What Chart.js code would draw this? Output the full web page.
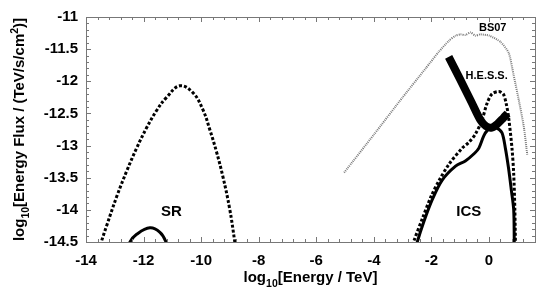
<!DOCTYPE html>
<html>
<head>
<meta charset="utf-8">
<script src="https://cdn.jsdelivr.net/npm/chart.js@4/dist/chart.umd.min.js"></script>
<style>
html, body { margin: 0; padding: 0; background: #fff; }
</style>
</head>
<body>
<canvas id="sedChart" width="538" height="291"></canvas>
<script>
// values: log10(E/TeV) vs log10(flux)
const srDotX = [-13.6, -13.47, -13.27, -12.93, -12.58, -12.24, -11.89, -11.54, -11.2, -10.74, -10.28, -9.93, -9.7, -9.47, -9.24, -9.01, -8.83, -8.77];
const srDotY = [-14.7, -14.5, -14.23, -13.79, -13.39, -13.04, -12.72, -12.45, -12.25, -12.07, -12.18, -12.45, -12.75, -13.09, -13.49, -13.98, -14.5, -14.7];
const srSolX = [-12.58, -12.47, -12.24, -11.78, -11.43, -11.22, -11.12];
const srSolY = [-14.7, -14.5, -14.38, -14.28, -14.35, -14.5, -14.7];
const bsX = [-5.03, -4.0, -3.0, -2.2, -1.74, -1.39, -1.16, -0.99, -0.82, -0.64, -0.47, -0.3, 0.01, 0.41, 0.69, 0.86, 1.04, 1.21, 1.33];
const bsY = [-13.42, -12.83, -12.25, -11.8, -11.54, -11.37, -11.29, -11.27, -11.28, -11.24, -11.29, -11.27, -11.29, -11.39, -11.56, -11.91, -12.3, -12.7, -13.14];
const hessX = [-1.4, -1.0, -0.6, -0.3, -0.1, 0.1, 0.3, 0.5, 0.65];
const hessY = [-11.62, -11.97, -12.33, -12.6, -12.7, -12.72, -12.66, -12.57, -12.5];
const icsDotX = [-2.75, -2.62, -2.3, -2.0, -1.74, -1.39, -0.93, -0.7, -0.47, -0.24, -0.07, 0.1, 0.34, 0.5, 0.6, 0.68, 0.8, 0.86, 0.9, 0.92, 0.93];
const icsDotY = [-14.7, -14.5, -14.12, -13.78, -13.55, -13.29, -13.04, -12.95, -12.82, -12.6, -12.35, -12.2, -12.16, -12.2, -12.35, -12.55, -13.04, -13.44, -14.0, -14.5, -14.7];
const icsSolX = [-2.6, -2.49, -2.26, -1.97, -1.63, -1.16, -0.82, -0.5, -0.35, -0.18, -0.05, 0.1, 0.25, 0.45, 0.57, 0.68, 0.78, 0.86, 0.88, 0.89];
const icsSolY = [-14.7, -14.5, -14.18, -13.84, -13.54, -13.32, -13.24, -13.12, -13.04, -12.85, -12.76, -12.72, -12.72, -12.8, -13.04, -13.35, -13.7, -14.0, -14.5, -14.7];

const xTicks = [-14, -12, -10, -8, -6, -4, -2, 0];
const yTicks = [-11, -11.5, -12, -12.5, -13, -13.5, -14, -14.5];

const notes = [
    { text: 'SR', x: -11.03, y: -14.03, size: 15 },
    { text: 'ICS', x: -0.7, y: -14.03, size: 15 },
    { text: 'BS07', x: 0.13, y: -11.17, size: 11 },
    { text: 'H.E.S.S.', x: -0.08, y: -11.91, size: 11 }
];

const FONT = '"Liberation Sans", Arial, sans-serif';

function pts(xs, ys) {
    return xs.map((x, i) => ({ x: x, y: ys[i] }));
}

// draws "log" + subscript + rest, with an optional superscript part
function richText(ctx, parts, size) {
    let w = 0;
    parts.forEach(p => {
        ctx.font = 'bold ' + (p.sub || p.sup ? size * 0.7 : size) + 'px ' + FONT;
        p.w = ctx.measureText(p.t).width;
        w += p.w;
    });
    let x = -w / 2;
    parts.forEach(p => {
        ctx.font = 'bold ' + (p.sub || p.sup ? size * 0.7 : size) + 'px ' + FONT;
        let dy = p.sub ? size * 0.3 : (p.sup ? -size * 0.4 : 0);
        ctx.fillText(p.t, x, dy);
        x += p.w;
    });
}

const framePlugin = {
    id: 'frame',
    afterDraw(chart) {
        const ctx = chart.ctx;
        const a = chart.chartArea;
        const xs = chart.scales.x, ys = chart.scales.y;
        ctx.save();
        ctx.strokeStyle = '#777';
        ctx.lineWidth = 1;
        ctx.beginPath();
        // minor ticks every 0.4 on x, every 0.1 on y, mirrored on all sides
        for (let i = 0; i <= 39; i++) {
            const v = -14 + i * 0.4;
            const px = Math.round(xs.getPixelForValue(v)) + 0.5;
            const len = (i % 5 === 0) ? 5 : 3;
            ctx.moveTo(px, a.bottom); ctx.lineTo(px, a.bottom - len);
            ctx.moveTo(px, a.top); ctx.lineTo(px, a.top + len);
        }
        for (let i = 0; i <= 35; i++) {
            const v = -14.5 + i * 0.1;
            const py = Math.round(ys.getPixelForValue(v)) + 0.5;
            const len = (i % 5 === 0) ? 5 : 3;
            ctx.moveTo(a.left, py); ctx.lineTo(a.left + len, py);
            ctx.moveTo(a.right, py); ctx.lineTo(a.right - len, py);
        }
        ctx.stroke();
        ctx.strokeRect(Math.round(a.left) + 0.5, Math.round(a.top) + 0.5, Math.round(a.right - a.left), Math.round(a.bottom - a.top));

        // curve labels
        ctx.fillStyle = '#000';
        ctx.textAlign = 'center';
        ctx.textBaseline = 'middle';
        notes.forEach(n => {
            ctx.font = 'bold ' + n.size + 'px ' + FONT;
            ctx.fillText(n.text, xs.getPixelForValue(n.x), ys.getPixelForValue(n.y));
        });

        // axis titles
        ctx.textAlign = 'left';
        ctx.textBaseline = 'alphabetic';
        ctx.save();
        ctx.translate((a.left + a.right) / 2, 282);
        richText(ctx, [{ t: 'log' }, { t: '10', sub: true }, { t: '[Energy / TeV]' }], 15);
        ctx.restore();
        ctx.save();
        ctx.translate(24, (a.top + a.bottom) / 2);
        ctx.rotate(-Math.PI / 2);
        richText(ctx, [{ t: 'log' }, { t: '10', sub: true }, { t: '[Energy Flux / (TeV/s/cm' }, { t: '2', sup: true }, { t: ')]' }], 15);
        ctx.restore();
        ctx.restore();
    }
};

const ctx = document.getElementById('sedChart').getContext('2d');
new Chart(ctx, {
    type: 'line',
    data: {
        datasets: [
            { data: pts(hessX, hessY), borderColor: '#000', borderWidth: 8, borderCapStyle: 'butt', tension: 0.3 },
            { data: pts(icsSolX, icsSolY), borderColor: '#000', borderWidth: 3, tension: 0.3 },
            { data: pts(icsDotX, icsDotY), borderColor: '#000', borderWidth: 3, borderDash: [3, 2], tension: 0.3 },
            { data: pts(srSolX, srSolY), borderColor: '#000', borderWidth: 3, tension: 0.4 },
            { data: pts(srDotX, srDotY), borderColor: '#000', borderWidth: 3, borderDash: [3, 2], tension: 0.4 },
            { data: pts(bsX, bsY), borderColor: '#7a7a7a', borderWidth: 2, borderDash: [1, 1], tension: 0.2 }
        ]
    },
    options: {
        responsive: false,
        animation: false,
        devicePixelRatio: 1,
        layout: { padding: { top: 5, right: 3, left: 0, bottom: 0 } },
        elements: { point: { radius: 0 } },
        datasets: { line: { clip: 0, fill: false } },
        plugins: { legend: { display: false }, tooltip: { enabled: false } },
        scales: {
            x: {
                type: 'linear', min: -14, max: 1.6,
                afterBuildTicks: s => { s.ticks = xTicks.map(v => ({ value: v })); },
                afterFit: s => { s.height = 49; },
                grid: { display: false, drawTicks: false },
                border: { display: false },
                ticks: { color: '#000', padding: 10, maxRotation: 0, autoSkip: false, callback: v => String(v), font: { family: FONT, size: 15, weight: 'bold' } }
            },
            y: {
                type: 'linear', min: -14.5, max: -11,
                afterBuildTicks: s => { s.ticks = yTicks.map(v => ({ value: v })); },
                afterFit: s => { s.width = 86; },
                grid: { display: false, drawTicks: false },
                border: { display: false },
                ticks: { color: '#000', padding: 8, autoSkip: false, callback: v => String(v), font: { family: FONT, size: 15, weight: 'bold' } }
            }
        }
    },
    plugins: [framePlugin]
});
</script>
</body>
</html>
